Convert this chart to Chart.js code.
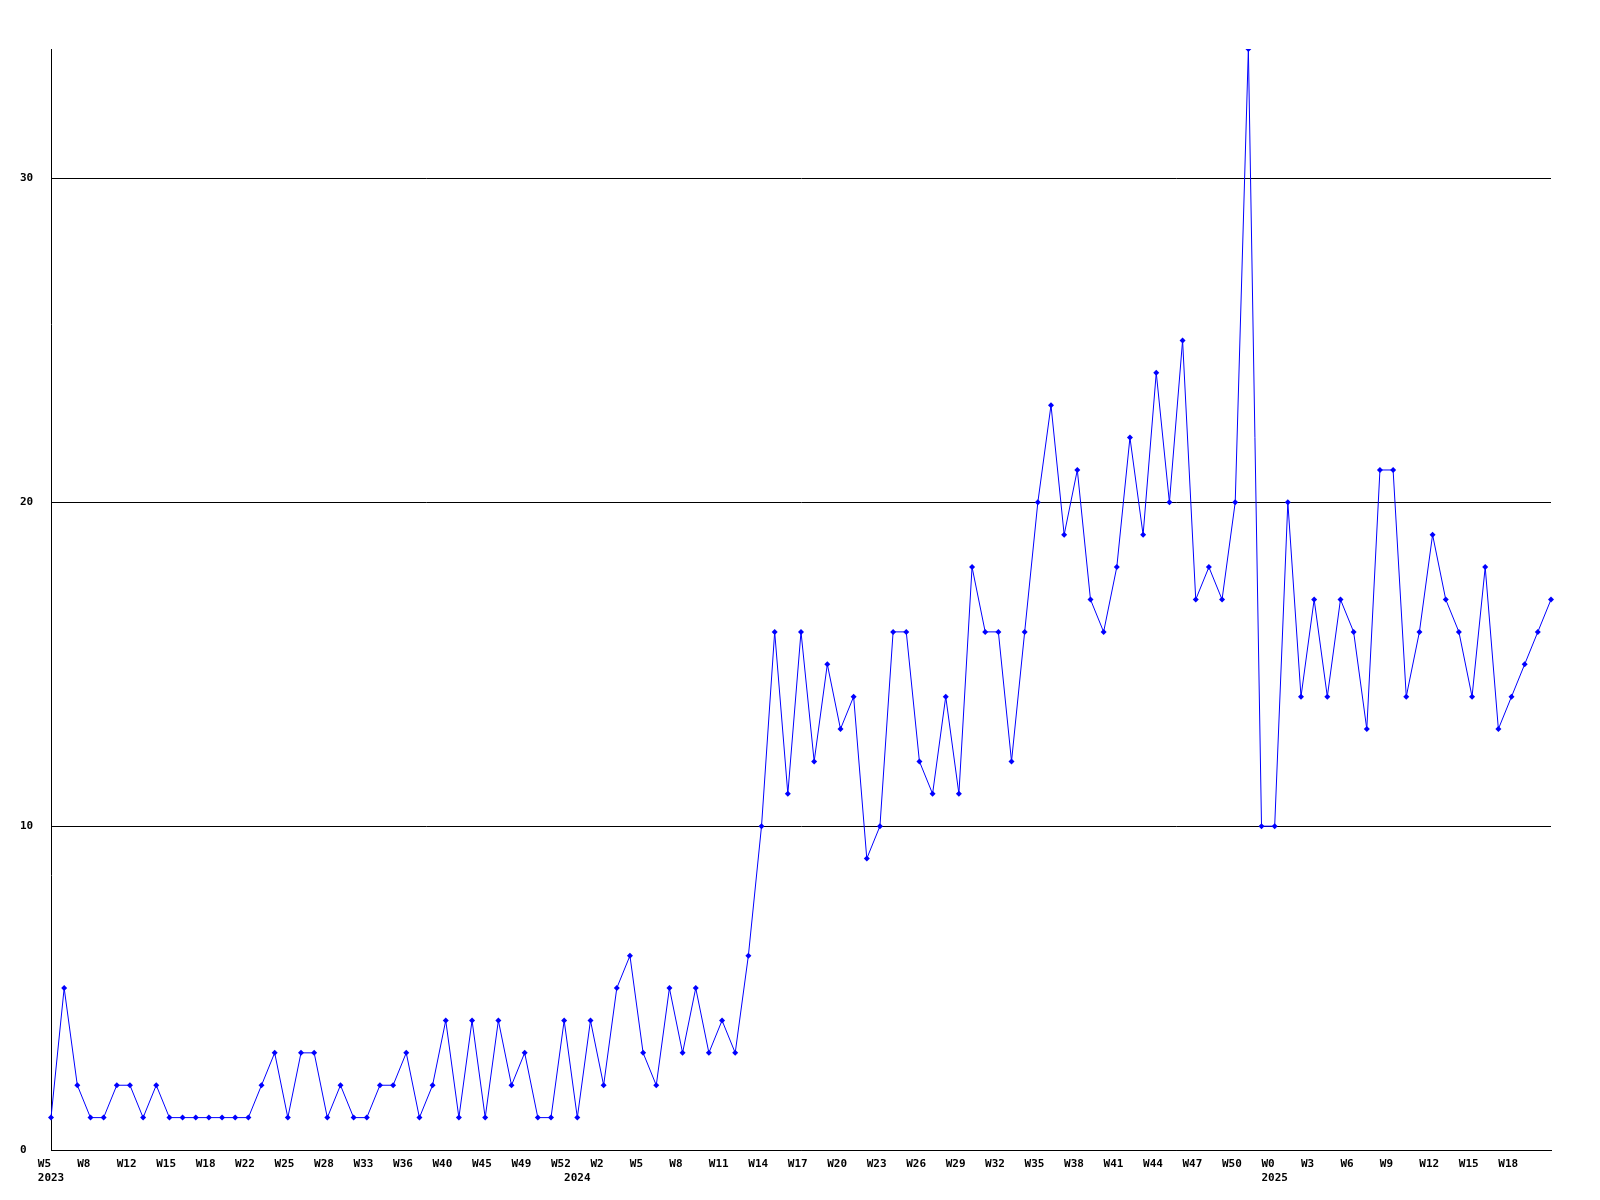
<!DOCTYPE html>
<html>
<head>
<meta charset="utf-8">
<title>Weekly count</title>
<script src="https://cdn.jsdelivr.net/npm/chart.js@4.4.1/dist/chart.umd.min.js"></script>
<style>
  html, body { margin: 0; padding: 0; background: #fff; }
  #wrap { width: 1600px; height: 1200px; }
</style>
</head>
<body>
<div id="wrap"><canvas id="chart" width="1600" height="1200"></canvas></div>
<script>
// values per week (W5 2023 .. W19 2025)
const values = [
    1, 5, 2, 1, 1, 2, 2, 1, 2, 1,
    1, 1, 1, 1, 1, 1, 2, 3, 1, 3,
    3, 1, 2, 1, 1, 2, 2, 3, 1, 2,
    4, 1, 4, 1, 4, 2, 3, 1, 1, 4,
    1, 4, 2, 5, 6, 3, 2, 5, 3, 5,
    3, 4, 3, 6, 10, 16, 11, 16, 12, 15,
    13, 14, 9, 10, 16, 16, 12, 11, 14, 11,
    18, 16, 16, 12, 16, 20, 23, 19, 21, 17,
    16, 18, 22, 19, 24, 20, 25, 17, 18, 17,
    20, 34, 10, 10, 20, 14, 17, 14, 17, 16,
    13, 21, 21, 14, 16, 19, 17, 16, 14, 18,
    13, 14, 15, 16, 17
];

// week labels, one every 3 points
const tickEvery = 3;
const weekTicks = [
    'W5', 'W8', 'W12', 'W15', 'W18', 'W22', 'W25', 'W28', 'W33', 'W36',
    'W40', 'W45', 'W49', 'W52', 'W2', 'W5', 'W8', 'W11', 'W14', 'W17',
    'W20', 'W23', 'W26', 'W29', 'W32', 'W35', 'W38', 'W41', 'W44', 'W47',
    'W50', 'W0', 'W3', 'W6', 'W9', 'W12', 'W15', 'W18'
];
// year labels under the week row
const yearTickIndex = [0, 40, 93];
const yearTickText = ['2023', '2024', '2025'];

const yTicks = [0, 10, 20, 30];
const yMax = 34;

const tickFont = { family: "'DejaVu Sans Mono', monospace", size: 11, weight: 'bold', lineHeight: 1.3 };

// category labels: week on line 1, year (if any) on line 2
const labels = values.map((v, i) => {
    const week = i % tickEvery === 0 ? (weekTicks[i / tickEvery] || '') : '';
    const y = yearTickIndex.indexOf(i);
    return y >= 0 ? [week, yearTickText[y]] : week;
});

// labels in the original start a bit left of the point: pad to 4 chars so the
// centred text begins at the same spot for every label
const padLabel = s => (s ? s.padEnd(4, ' ') : s);

const ctx = document.getElementById('chart').getContext('2d');
new Chart(ctx, {
    type: 'line',
    data: {
        labels: labels,
        datasets: [{
            data: values,
            borderColor: '#0000ff',
            borderWidth: 1,
            backgroundColor: '#0000ff',
            pointStyle: 'rectRot',
            pointRadius: 3,
            pointBorderWidth: 0,
            pointBackgroundColor: '#0000ff',
            tension: 0,
            fill: false
        }]
    },
    options: {
        responsive: false,
        animation: false,
        devicePixelRatio: 1,
        layout: { padding: { left: 20, top: 49, right: 49, bottom: 0 } },
        scales: {
            x: {
                type: 'category',
                offset: false,
                grid: { display: false },
                border: { display: true, color: '#000', width: 1 },
                ticks: {
                    autoSkip: false,
                    maxRotation: 0,
                    minRotation: 0,
                    padding: -1,
                    color: '#000',
                    font: tickFont,
                    callback: function (v) {
                        const l = this.getLabelForValue(v);
                        return Array.isArray(l) ? l.map(padLabel) : padLabel(l);
                    }
                },
                afterFit: s => { s.height = 50; }
            },
            y: {
                min: 0,
                max: yMax,
                afterBuildTicks: s => { s.ticks = yTicks.map(v => ({ value: v })); },
                grid: { color: '#000', lineWidth: 1, drawTicks: false },
                border: { display: true, color: '#000', width: 1 },
                ticks: {
                    crossAlign: 'far',
                    padding: 0,
                    color: '#000',
                    font: tickFont
                },
                afterFit: s => { s.width = 31; }
            }
        },
        plugins: {
            legend: { display: false },
            tooltip: { enabled: false },
            title: { display: false }
        }
    }
});
</script>
</body>
</html>
